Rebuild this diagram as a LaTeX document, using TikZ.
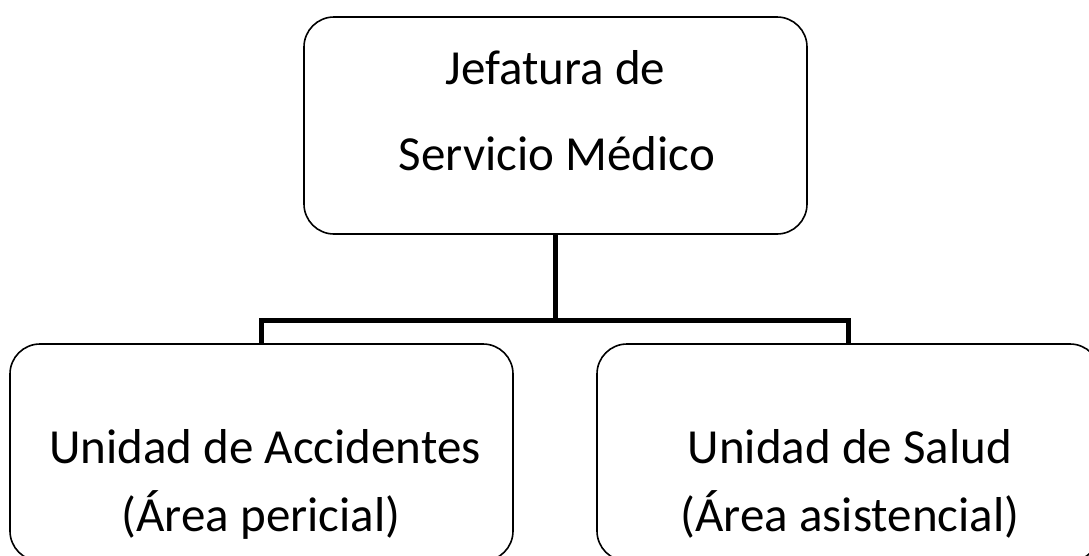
\documentclass[tikz,border=0pt]{standalone}
\usepackage{fontspec}
\setmainfont{Carlito}
\begin{document}
\begin{tikzpicture}[x=1pt,y=-1pt,
  box/.style={draw=black,line width=1.6pt,rounded corners=30pt,minimum width=503pt,minimum height=217pt,inner sep=0pt},
  conn/.style={draw=black,line width=5pt,line join=miter},
  toptxt/.style={anchor=base,inner sep=0pt,font=\fontsize{49}{56}\selectfont},
  bottxt/.style={anchor=base,inner sep=0pt,font=\fontsize{49}{56}\selectfont}]
\useasboundingbox (0,0) rectangle (1089,555);
\fill[white] (0,0) rectangle (1089,555);
\node[box] (top) at (555.5,125.5) {};
\node[box] (left) at (261.5,452.5) {};
\node[box] (right) at (848.5,452.5) {};
\node[toptxt] (t1) at (555.5,84) {Jefatura de};
\node[toptxt] (t2) at (557,170) {Servicio Médico};
\node[bottxt] (l1) at (265,463) {Unidad de Accidentes};
\node[bottxt] (l2) at (261,531) {(Área pericial)};
\node[bottxt] (r1) at (850,463) {Unidad de Salud};
\node[bottxt] (r2) at (850,531) {(Área asistencial)};
\coordinate (j) at (555.5,320);
\draw[conn] (top.south) -- (j);
\draw[conn] (left.north) |- (j) -| (right.north);
\end{tikzpicture}
\end{document}
